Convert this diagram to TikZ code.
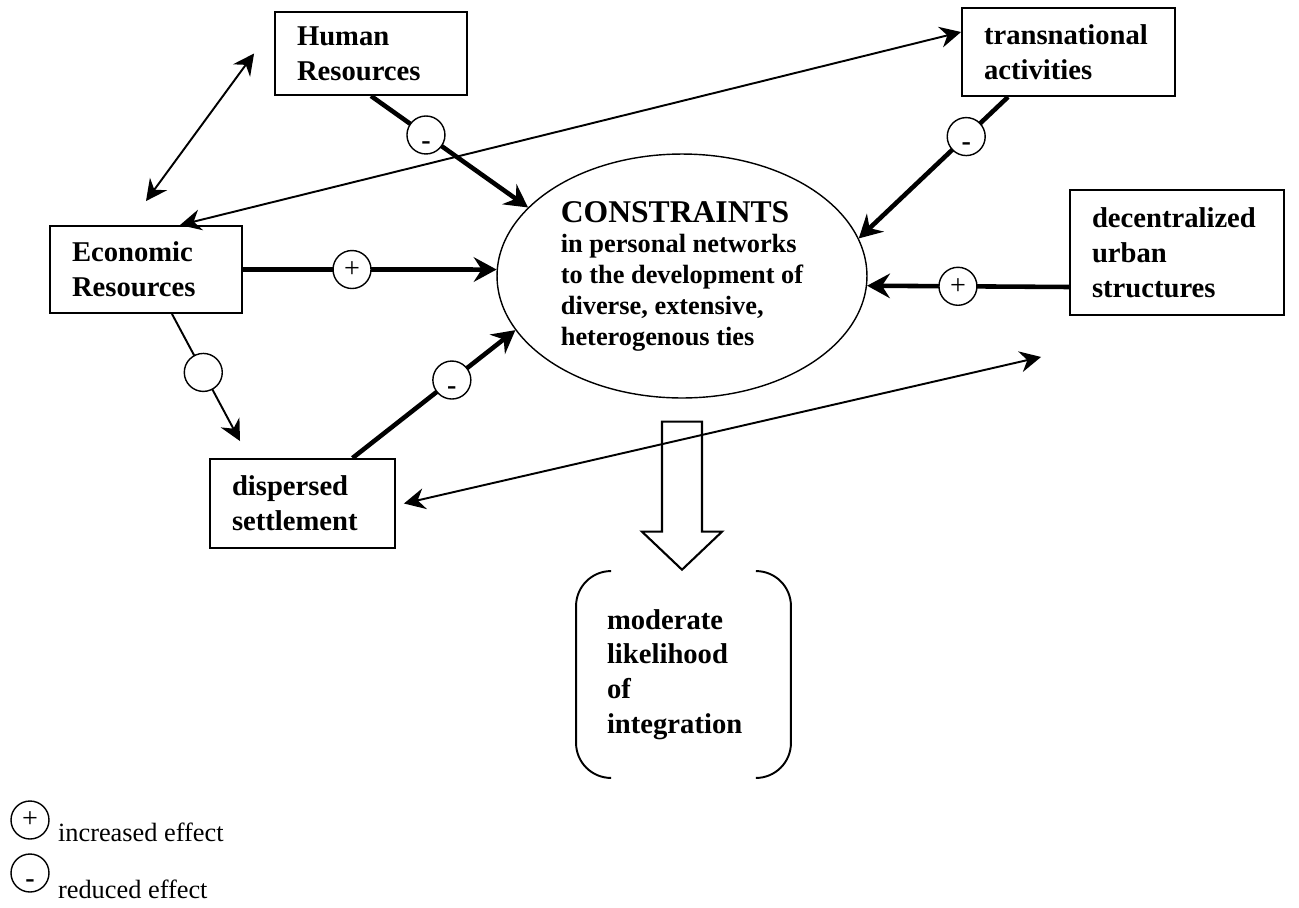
\documentclass[tikz,border=0pt]{standalone}
\usepackage{fontspec}
\setmainfont{Liberation Serif}
\usetikzlibrary{shapes.geometric, arrows.meta}
\tikzstyle{box}     = [rectangle, draw=black, line width=1.1pt, align=left,
                       inner xsep=0.44cm, font=\fontsize{16.3}{19.8}\selectfont\bfseries]
\tikzstyle{core}    = [ellipse, draw=black, line width=0.8pt, minimum width=7.4cm,
                       minimum height=4.88cm, inner sep=0pt, align=left,
                       font=\fontsize{15}{17.5}\selectfont\bfseries]
\tikzstyle{effect}  = [circle, draw=black, fill=white, line width=0.8pt,
                       minimum size=0.76cm, inner sep=0pt, font=\fontsize{16}{16}\selectfont]
\tikzstyle{strong}  = [line width=2.6pt, ->, >={Stealth[length=13pt, width=14pt, inset=4.5pt]}]
\tikzstyle{link}    = [line width=1.1pt, >={Stealth[length=12pt, width=12pt, inset=4pt]}]
\tikzstyle{keytext} = [anchor=base west, inner sep=0pt, font=\fontsize{15}{18}\selectfont]
\newcommand{\lowminus}{\raisebox{-8pt}[0pt][0pt]{\bfseries -}}

\begin{document}
\begin{tikzpicture}[x=0.02cm, y=-0.02cm]
    \useasboundingbox (0,0) rectangle (1299,907);

    \node (human) [box, text width=2.96cm, minimum height=1.66cm] at (371,53.5)    {Human\\Resources};
    \node (econ)  [box, text width=2.96cm, minimum height=1.74cm] at (146,269.5)   {Economic\\Resources};
    \node (trans) [box, text width=3.38cm, minimum height=1.76cm] at (1068.5,52)   {transnational\\activities};
    \node (dec)   [box, text width=3.40cm, minimum height=2.5cm]  at (1177,252.5)  {decentralized\\urban\\structures};
    \node (disp)  [box, text width=2.82cm, minimum height=1.78cm] at (302.5,503.5) {dispersed\\settlement};
    \node (cons)  [core] at (682,276) {{\fontsize{18}{17.5}\selectfont CONSTRAINTS}\\in personal networks\\to the development of\\diverse, extensive,\\heterogenous ties};
    \node (outcome) [box, draw=none, text width=3.06cm, inner xsep=0.6cm, minimum height=4.1cm] at (683.5,674.5) {moderate\\likelihood\\of\\integration};

    \draw [line width=1.1pt, rounded corners=0.7cm] ([xshift=0.7cm]outcome.north west) -- (outcome.north west)
        -- (outcome.south west) -- ([xshift=0.7cm]outcome.south west);
    \draw [line width=1.1pt, rounded corners=0.7cm] ([xshift=-0.7cm]outcome.north east) -- (outcome.north east)
        -- (outcome.south east) -- ([xshift=-0.7cm]outcome.south east);
    \draw [line width=1.2pt, fill=white] ([xshift=-0.4cm, yshift=-0.46cm]cons.south) -- ++(0,110) -- ++(-20,0)
        -- ++(40,38) -- ++(40,-38) -- ++(-20,0) -- ++(0,-110) -- cycle;

    \draw [link, <->] ([xshift=-0.4cm]human.west) -- ([yshift=0.48cm]econ.north);
    \draw [link, <->] ([xshift=0.68cm]econ.north) -- ([yshift=0.4cm]trans.west);
    \draw [link, <->] ([xshift=0.16cm]disp.east) -- ([xshift=-0.56cm, yshift=-0.82cm]dec.south west);
    \draw [link, ->] ([xshift=0.52cm]econ.south) -- node[effect, pos=0.46] {} ([xshift=-1.25cm, yshift=0.34cm]disp.north);

    \draw [strong] (human.south) -- node[effect, pos=0.35] {\lowminus} (cons.156);
    \draw [strong] (econ.east) -- node[effect, pos=0.43] {+} (cons.178);
    \draw [strong] ([xshift=1cm]disp.north) -- node[effect, pos=0.61] {\lowminus} (cons.198);
    \draw [strong] ([xshift=-1.21cm]trans.south) -- node[effect, pos=0.28] {\lowminus} (cons.12);
    \draw [strong] ([yshift=-0.69cm]dec.west) -- node[effect, pos=0.55] {+} (cons.-3);

    \node (plusmark)   [effect] at (30,820) {+};
    \node (minusmark)  [effect] at (30,873) {\lowminus};
    \node (pluslabel)  [keytext] at ([xshift=0.16cm, yshift=-0.42cm]plusmark.east) {increased effect};
    \node (minuslabel) [keytext] at ([xshift=0.16cm, yshift=-0.5cm]minusmark.east) {reduced effect};
\end{tikzpicture}
\end{document}
